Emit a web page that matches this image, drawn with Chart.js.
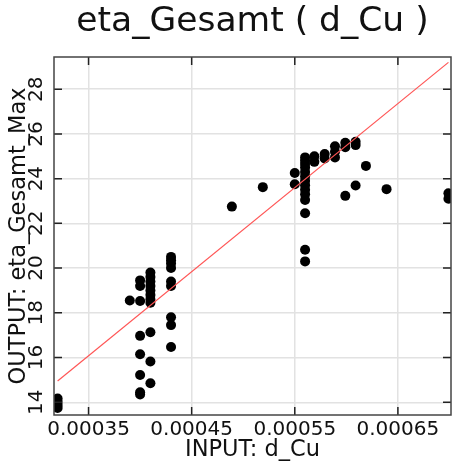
<!DOCTYPE html>
<html>
<head>
<meta charset="utf-8">
<script src="https://cdn.jsdelivr.net/npm/chart.js@4"></script>
<style>
  body { margin: 0; background: #fff; }
  #wrap { width: 456px; height: 465px; }
</style>
</head>
<body>
<div id="wrap"><canvas id="etaChart" width="456" height="465"></canvas></div>
<script>
///////////////////////////////
//////////// Data /////////////
///////////////////////////////

const xTicks = [0.00035, 0.00045, 0.00055, 0.00065];
const yTicks = [14, 16, 18, 20, 22, 24, 26, 28];
const xMin = 0.0003165, xMax = 0.0007015;
const yMin = 13.43, yMax = 29.44;

// INPUT: d_Cu
const dCu = [
    0.00032, 0.00032, 0.00032, 0.00032,
    0.00039,
    0.0004, 0.0004, 0.0004, 0.0004, 0.0004, 0.0004, 0.0004, 0.0004,
    0.00041, 0.00041, 0.00041, 0.00041, 0.00041, 0.00041, 0.00041, 0.00041, 0.00041, 0.00041, 0.00041,
    0.00043, 0.00043, 0.00043, 0.00043, 0.00043, 0.00043, 0.00043, 0.00043, 0.00043,
    0.000489,
    0.000519,
    0.00055, 0.00055,
    0.00056, 0.00056, 0.00056, 0.00056, 0.00056, 0.00056, 0.00056, 0.00056, 0.00056, 0.00056, 0.00056, 0.00056, 0.00056, 0.00056,
    0.000569, 0.000569,
    0.000579, 0.000579,
    0.000589, 0.000589, 0.000589,
    0.000599, 0.000599, 0.000599,
    0.000609, 0.000609, 0.000609,
    0.000619,
    0.000639,
    0.000699, 0.000699
];

// OUTPUT: eta_Gesamt_Max
const etaGesamtMax = [
    14.17, 14.02, 13.88, 13.74,
    18.55,
    19.45, 19.2, 18.53, 16.97, 16.15, 15.22, 14.45, 14.35,
    19.8, 19.6, 19.4, 19.2, 19.0, 18.8, 18.6, 18.45, 17.13, 15.82, 14.85,
    20.5, 20.35, 20.2, 20.0, 19.4, 19.2, 17.8, 17.45, 16.47,
    22.75,
    23.62,
    24.25, 23.75,
    24.95, 24.8, 24.65, 24.5, 24.3, 24.1, 23.9, 23.7, 23.5, 23.3, 23.05, 22.45, 20.82, 20.3,
    25.0, 24.75,
    25.1, 24.9,
    25.45, 25.2, 24.95,
    25.6, 25.4, 23.23,
    25.65, 25.5, 23.69,
    24.57,
    23.53,
    23.35, 23.1
];

// red reference line
const fitX = [0.00032, 0.000699];
const fitY = [14.95, 29.2];

///////////////////////////////
/////////// Chart /////////////
///////////////////////////////

const textColor = '#111';
const gridColor = '#e2e2e2';

let points = dCu.map((x, i) => ({ x: x, y: etaGesamtMax[i] }));
let fitLine = fitX.map((x, i) => ({ x: x, y: fitY[i] }));

// frame, inner tick marks and rotated y tick labels
const frameAndTicks = {
    id: 'frameAndTicks',
    afterDraw(chart) {
        const { ctx, chartArea: a, scales } = chart;
        ctx.save();
        ctx.strokeStyle = '#222';
        ctx.lineWidth = 1.5;
        ctx.beginPath();
        xTicks.forEach(v => {
            const px = scales.x.getPixelForValue(v);
            ctx.moveTo(px, a.top); ctx.lineTo(px, a.top + 8);
            ctx.moveTo(px, a.bottom); ctx.lineTo(px, a.bottom - 8);
        });
        yTicks.forEach(v => {
            const py = scales.y.getPixelForValue(v);
            ctx.moveTo(a.left, py); ctx.lineTo(a.left + 8, py);
            ctx.moveTo(a.right, py); ctx.lineTo(a.right - 8, py);
        });
        ctx.stroke();

        ctx.strokeStyle = '#444';
        ctx.strokeRect(a.left, a.top, a.right - a.left, a.bottom - a.top);

        ctx.font = '20px "DejaVu Sans"';
        ctx.fillStyle = textColor;
        ctx.textAlign = 'center';
        ctx.textBaseline = 'middle';
        yTicks.forEach(v => {
            const py = scales.y.getPixelForValue(v);
            ctx.save();
            ctx.translate(37, py);
            ctx.rotate(-Math.PI / 2);
            ctx.fillText(String(v), 0, 0);
            ctx.restore();
        });
        ctx.restore();
    }
};

let etaCanvas = document.getElementById('etaChart');
let etaChart = new Chart(etaCanvas, {
    type: 'scatter',
    data: {
        datasets: [{
            type: 'line',
            label: 'fit',
            data: fitLine,
            borderColor: '#ff5555',
            borderWidth: 1.2,
            pointRadius: 0,
            fill: false,
            order: 0
        }, {
            label: 'eta_Gesamt_Max',
            data: points,
            backgroundColor: '#000',
            borderColor: '#000',
            borderWidth: 0,
            pointRadius: 5,
            clip: 0,
            order: 1
        }]
    },
    options: {
        responsive: false,
        animation: false,
        layout: { padding: { left: 0, right: 3, top: 0, bottom: 0 } },
        plugins: {
            legend: { display: false },
            tooltip: { enabled: false },
            title: {
                display: true,
                text: 'eta_Gesamt ( d_Cu )',
                fullSize: false,
                color: '#111',
                font: { family: 'DejaVu Sans', size: 34.5, weight: 'normal' },
                padding: { top: 1, bottom: 14.6 }
            }
        },
        scales: {
            x: {
                type: 'linear',
                min: xMin,
                max: xMax,
                afterBuildTicks: s => { s.ticks = xTicks.map(v => ({ value: v })); },
                afterFit: s => { s.height = 50; },
                grid: { color: gridColor, lineWidth: 1.5, drawTicks: false },
                border: { display: false },
                ticks: {
                    autoSkip: false,
                    minRotation: 0,
                    maxRotation: 0,
                    padding: 3,
                    color: textColor,
                    font: { family: 'DejaVu Sans', size: 20 },
                    callback: v => v.toFixed(5)
                },
                title: {
                    display: true,
                    text: 'INPUT: d_Cu',
                    color: textColor,
                    font: { family: 'DejaVu Sans', size: 22.5 },
                    padding: { top: 0, bottom: 1.5 }
                }
            },
            y: {
                type: 'linear',
                min: yMin,
                max: yMax,
                afterBuildTicks: s => { s.ticks = yTicks.map(v => ({ value: v })); },
                afterFit: s => { s.width = 54; },
                grid: { color: gridColor, lineWidth: 1.5, drawTicks: false },
                border: { display: false },
                ticks: { display: false },
                title: {
                    display: true,
                    text: 'OUTPUT: eta_Gesamt_Max',
                    color: textColor,
                    font: { family: 'DejaVu Sans', size: 22.5 },
                    padding: { top: 5.5, bottom: 0 }
                }
            }
        }
    },
    plugins: [frameAndTicks]
});
</script>
</body>
</html>
